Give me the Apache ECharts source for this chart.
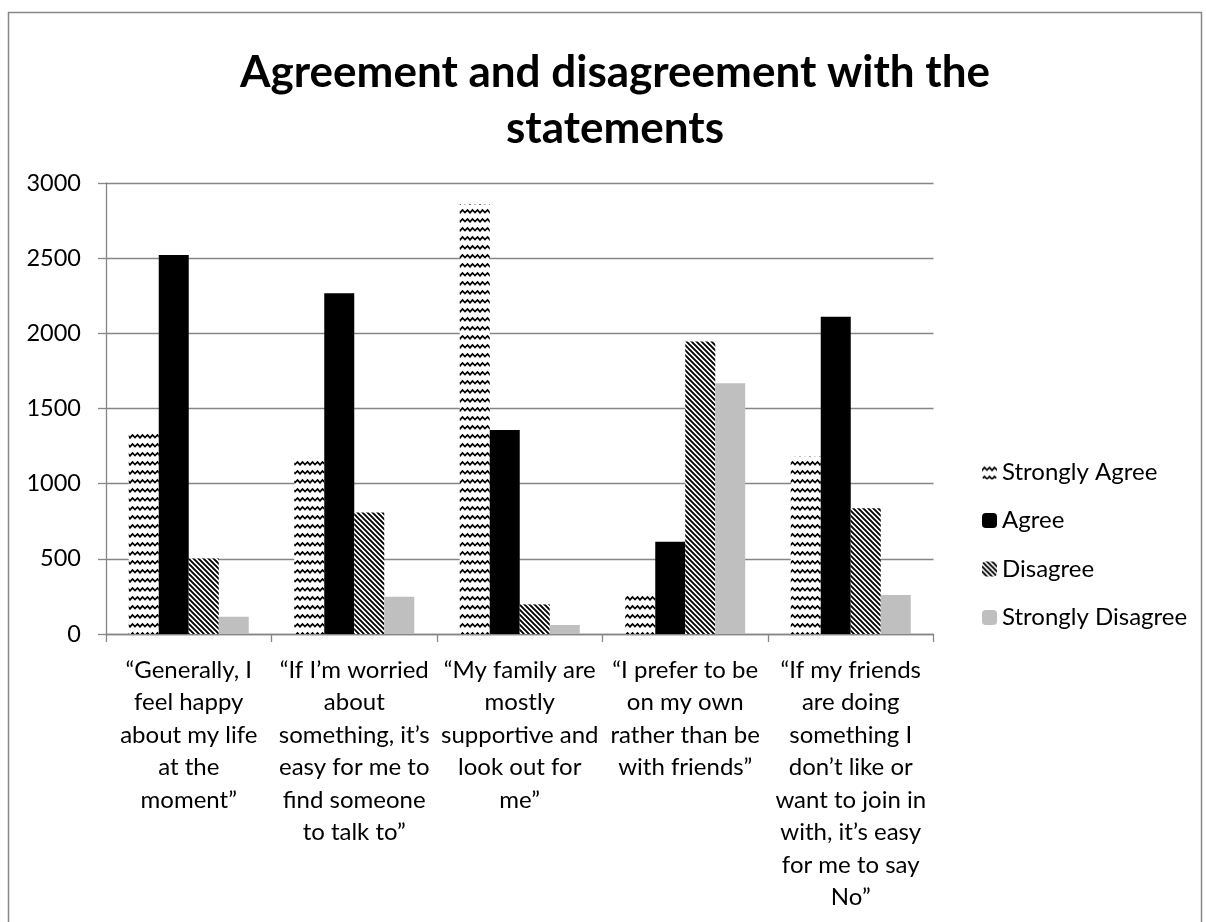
<!DOCTYPE html>
<html><head><meta charset="utf-8">
<script src="https://cdn.jsdelivr.net/npm/echarts@6/dist/echarts.min.js"></script>
<style>html,body{margin:0;padding:0;background:#fff}#c{width:1206px;height:922px}</style>
</head><body><div id="c"></div>
<script>
const categories = [
  "\u201cGenerally, I\nfeel happy\nabout my life\nat the\nmoment\u201d",
  "\u201cIf I\u2019m worried\nabout\nsomething, it\u2019s\neasy for me to\nfind someone\nto talk to\u201d",
  "\u201cMy family are\nmostly\nsupportive and\nlook out for\nme\u201d",
  "\u201cI prefer to be\non my own\nrather than be\nwith friends\u201d",
  "\u201cIf my friends\nare doing\nsomething I\ndon\u2019t like or\nwant to join in\nwith, it\u2019s easy\nfor me to say\nNo\u201d"
];
const seriesNames = ["Strongly Agree", "Agree", "Disagree", "Strongly Disagree"];
const stronglyAgree = [1335, 1162, 2860, 259, 1180];
const agree = [2521, 2266, 1357, 614, 2111];
const disagree = [503, 809, 197, 1945, 836];
const stronglyDisagree = [115, 248, 60, 1668, 259];
const yTicks = [0, 500, 1000, 1500, 2000, 2500, 3000];

function wavePattern() {
  const w = 10, h = 9;
  const c = document.createElement('canvas');
  c.width = w; c.height = h;
  const g = c.getContext('2d');
  g.fillStyle = '#fff'; g.fillRect(0, 0, w, h);
  g.strokeStyle = '#000'; g.lineWidth = 1.7;
  g.beginPath();
  g.moveTo(-0.5, 6.5); g.lineTo(2.5, 3); g.lineTo(5, 5.5); g.lineTo(7.5, 3); g.lineTo(10.5, 6.5);
  g.stroke();
  return c;
}
function diagPattern() {
  const s = 5;
  const c = document.createElement('canvas');
  c.width = s; c.height = s;
  const g = c.getContext('2d');
  g.fillStyle = '#fff'; g.fillRect(0, 0, s, s);
  g.strokeStyle = '#000'; g.lineWidth = 1.9;
  g.beginPath();
  for (let k = -1; k <= 1; k++) {
    g.moveTo(k * s - 1, -1); g.lineTo(k * s + s + 1, s + 1);
  }
  g.stroke();
  return c;
}
const fills = [
  { image: wavePattern(), repeat: 'repeat' },
  '#000000',
  { image: diagPattern(), repeat: 'repeat' },
  '#BFBFBF'
];
const values = [stronglyAgree, agree, disagree, stronglyDisagree];
const font = 'Lato, "Open Sans", sans-serif';

const chart = echarts.init(document.getElementById('c'));
chart.setOption({
  animation: false,
  backgroundColor: '#fff',
  title: {
    text: 'Agreement and disagreement with the\nstatements',
    left: 610, textAlign: 'center', top: 40,
    textStyle: { fontFamily: font, fontSize: 44, fontWeight: 'bold', color: '#000', lineHeight: 56 }
  },
  graphic: [{
    type: 'rect', shape: { x: 8.5, y: 12.5, width: 1193, height: 920 },
    style: { fill: 'none', stroke: '#878787', lineWidth: 1.5 }, silent: true
  }],
  legend: {
    orient: 'vertical', left: 977, top: 455,
    itemWidth: 15, itemHeight: 15, itemGap: 24.5,
    textStyle: { fontFamily: font, fontSize: 24, lineHeight: 24, color: '#000' },
    data: seriesNames
  },
  grid: { left: 106, right: 272.5, top: 183, bottom: 288, containLabel: false },
  xAxis: {
    type: 'category', data: categories,
    axisLine: { lineStyle: { color: '#868686', width: 1.3 } },
    axisTick: { show: true, length: 8, alignWithLabel: false, lineStyle: { color: '#868686', width: 1.3 } },
    axisLabel: { interval: 0, margin: 20, fontFamily: font, fontSize: 24, color: '#000', lineHeight: 32.5, align: 'center' }
  },
  yAxis: {
    type: 'value', min: 0, max: 3000, interval: 500,
    axisLine: { show: true, lineStyle: { color: '#868686', width: 1.3 } },
    axisTick: { show: true, length: 8, lineStyle: { color: '#868686', width: 1.3 } },
    splitLine: { lineStyle: { color: '#868686', width: 1.3 } },
    axisLabel: { margin: 25, fontFamily: font, fontSize: 23.5, color: '#000',
      formatter: v => yTicks.includes(v) ? String(v) : '' }
  },
  series: seriesNames.map((n, i) => ({
    name: n, type: 'bar', data: values[i],
    barGap: '0%', barCategoryGap: '27.5%',
    itemStyle: { color: fills[i] }
  }))
});
</script></body></html>
